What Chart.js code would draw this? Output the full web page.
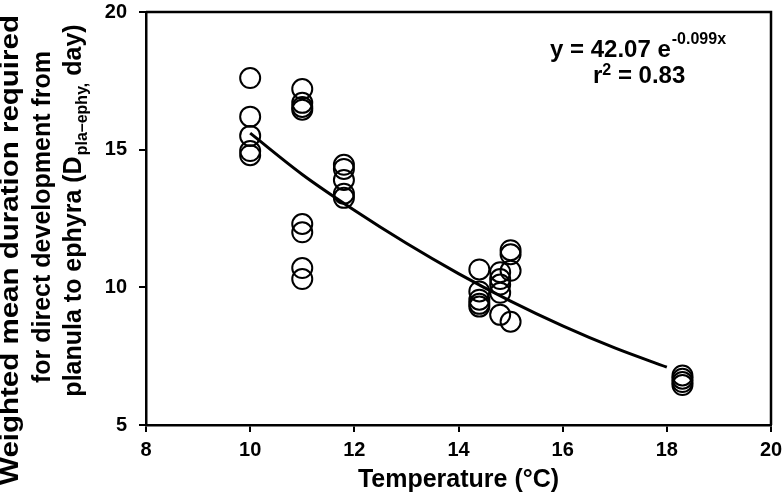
<!DOCTYPE html>
<html>
<head>
<meta charset="utf-8">
<script src="https://cdn.jsdelivr.net/npm/chart.js@4/dist/chart.umd.min.js"></script>
<style>
  html, body { margin: 0; padding: 0; background: #fff; }
  #wrap { width: 783px; height: 495px; position: relative; }
</style>
</head>
<body>
<div id="wrap"><canvas id="chart"></canvas></div>
<script>
// observed temperatures (°C) and weighted mean durations (day)
const obsTemp = [
    10, 10, 10, 10, 10,
    11, 11, 11, 11, 11, 11, 11, 11,
    11.8, 11.8, 11.8, 11.8, 11.8,
    14.4, 14.4, 14.4, 14.4, 14.4,
    14.8, 14.8, 14.8, 14.8, 14.8,
    15, 15, 15, 15,
    18.3, 18.3, 18.3, 18.3
];
const obsDuration = [
    17.6, 16.2, 15.5, 14.95, 14.8,
    17.2, 16.7, 16.55, 16.45, 12.3, 12.0, 10.7, 10.3,
    14.45, 14.3, 13.9, 13.4, 13.25,
    10.65, 9.85, 9.55, 9.4, 9.3,
    10.55, 10.3, 10.1, 9.8, 9.0,
    11.35, 11.2, 10.6, 8.75,
    6.8, 6.68, 6.56, 6.45
];
// fitted curve
const fitTemp = [10, 11, 12, 13, 14, 15, 16, 17, 18];
const fitDuration = [15.6, 14.1, 12.8, 11.6, 10.5, 9.5, 8.6, 7.8, 7.1];

const xTicks = [8, 10, 12, 14, 16, 18, 20];
const yTicks = [5, 10, 15, 20];

const yTitleLines = ['Weighted mean duration required', 'for direct development from'];
const xTitle = 'Temperature (°C)';

const FONT = "'Liberation Sans', Arial, sans-serif";

// draws the box, the rotated y title with subscript and the equation
const decorPlugin = {
    id: 'decor',
    afterDraw(chart) {
        const ctx = chart.ctx;
        const a = chart.chartArea;
        ctx.save();
        ctx.strokeStyle = '#000';
        ctx.lineWidth = 2.5;
        ctx.beginPath();
        ctx.moveTo(a.left, a.top);
        ctx.lineTo(a.right, a.top);
        ctx.lineTo(a.right, a.bottom);
        ctx.stroke();

        ctx.fillStyle = '#000';
        ctx.textBaseline = 'alphabetic';

        // y title, rotated; first line is stretched in the source figure
        const big = 'bold 25px ' + FONT;
        const small = 'bold 16px ' + FONT;
        const baselines = [18, 50, 81];
        const centers = [250, 217, 211];
        const stretch = [1.18, 1, 1];
        ctx.font = big;
        yTitleLines.forEach((t, i) => {
            ctx.save();
            ctx.translate(baselines[i], centers[i]);
            ctx.rotate(-Math.PI / 2);
            ctx.scale(stretch[i], 1);
            ctx.textAlign = 'center';
            ctx.fillText(t, 0, 0);
            ctx.restore();
        });
        const p1 = 'planula to ephyra (D', sub = 'pla\u2013ephy,', p2 = ' day)';
        ctx.font = big; const w1 = ctx.measureText(p1).width; const w3 = ctx.measureText(p2).width;
        ctx.font = small; const w2 = ctx.measureText(sub).width;
        ctx.save();
        ctx.translate(baselines[2], centers[2]);
        ctx.rotate(-Math.PI / 2);
        ctx.textAlign = 'left';
        let x0 = -(w1 + w2 + w3) / 2;
        ctx.font = big; ctx.fillText(p1, x0, 0);
        ctx.font = small; ctx.fillText(sub, x0 + w1 + 1, 6);
        ctx.font = big; ctx.fillText(p2, x0 + w1 + w2 + 1, 0);
        ctx.restore();

        // equation
        ctx.textAlign = 'left';
        ctx.font = 'bold 24px ' + FONT;
        const e1 = 'y = 42.07 e';
        ctx.fillText(e1, 550, 57);
        const ew = ctx.measureText(e1).width;
        ctx.font = 'bold 16px ' + FONT;
        ctx.fillText('-0.099x', 550 + ew + 1, 44);
        ctx.font = 'bold 24px ' + FONT;
        ctx.fillText('r', 593, 83);
        const rw = ctx.measureText('r').width;
        ctx.font = 'bold 16px ' + FONT;
        ctx.fillText('2', 593 + rw, 75);
        const tw = ctx.measureText('2').width;
        ctx.font = 'bold 24px ' + FONT;
        ctx.fillText(' = 0.83', 593 + rw + tw, 83);
        ctx.restore();
    }
};

new Chart(document.getElementById('chart'), {
    type: 'scatter',
    data: {
        datasets: [
            {
                label: 'observed',
                data: obsTemp.map((t, i) => ({ x: t, y: obsDuration[i] })),
                pointStyle: 'circle',
                pointRadius: 10,
                pointBorderWidth: 2,
                pointBorderColor: '#000',
                pointBackgroundColor: 'rgba(0,0,0,0)',
                showLine: false
            },
            {
                label: 'fit',
                data: fitTemp.map((t, i) => ({ x: t, y: fitDuration[i] })),
                showLine: true,
                borderColor: '#000',
                borderWidth: 3,
                cubicInterpolationMode: 'monotone',
                pointRadius: 0,
                fill: false
            }
        ]
    },
    options: {
        responsive: true,
        maintainAspectRatio: false,
        animation: false,
        layout: { padding: { left: 0, top: 8, right: 11, bottom: 0 } },
        plugins: {
            legend: { display: false },
            tooltip: { enabled: false }
        },
        scales: {
            x: {
                type: 'linear',
                min: 8,
                max: 20,
                afterBuildTicks: s => { s.ticks = xTicks.map(v => ({ value: v })); },
                afterFit: s => { s.height = 70; s.paddingLeft = 0; s.paddingRight = 0; },
                grid: { drawOnChartArea: false, color: '#000', lineWidth: 2, tickLength: 7 },
                border: { color: '#000', width: 2.5 },
                ticks: { color: '#000', padding: 6, font: { family: FONT, size: 20, weight: 'bold' } },
                title: {
                    display: true, text: xTitle, color: '#000', padding: { top: 4, bottom: 0 },
                    font: { family: FONT, size: 25, weight: 'bold' }
                }
            },
            y: {
                type: 'linear',
                min: 5,
                max: 20,
                afterBuildTicks: s => { s.ticks = yTicks.map(v => ({ value: v })); },
                afterFit: s => { s.width = 146; s.paddingTop = 0; s.paddingBottom = 0; },
                grid: { drawOnChartArea: false, color: '#000', lineWidth: 2, tickLength: 7 },
                border: { color: '#000', width: 2.5 },
                ticks: { color: '#000', padding: 12, font: { family: FONT, size: 20, weight: 'bold' } }
            }
        }
    },
    plugins: [decorPlugin]
});
</script>
</body>
</html>
